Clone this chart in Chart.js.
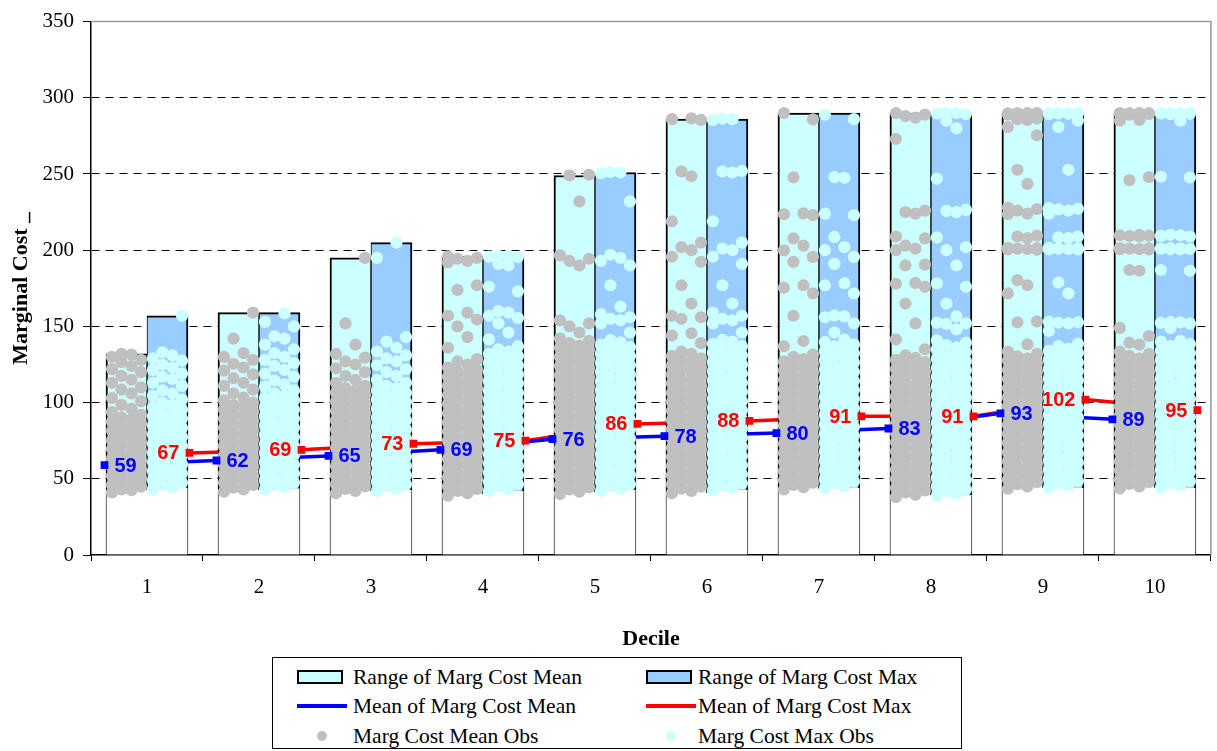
<!DOCTYPE html>
<html>
<head>
<meta charset="utf-8">
<script src="https://cdn.jsdelivr.net/npm/chart.js@4.4.1/dist/chart.umd.min.js"></script>
<style>
  html, body { margin: 0; padding: 0; background: #fff; }
  #wrap { position: relative; width: 1217px; height: 751px; }
  #legend {
    position: absolute; left: 272px; top: 657px; width: 690px; height: 92px;
    box-sizing: border-box; border: 1px solid #000; background: #fff;
    font-family: "Liberation Serif", "Times New Roman", serif; font-size: 21.5px; color: #000;
  }
  .item { position: absolute; height: 26px; line-height: 26px; white-space: nowrap; }
  .item .txt { position: absolute; top: 0; }
  .sw { position: absolute; top: 6px; width: 42px; height: 10px; border: 2px solid #000; }
  .ln { position: absolute; top: 11px; width: 50px; height: 4px; }
  .dot { position: absolute; top: 8px; width: 10px; height: 10px; border-radius: 50%; }
</style>
</head>
<body>
<div id="wrap">
  <canvas id="chart" width="1217" height="751"></canvas>
  <div id="legend">
    <div class="item" style="left:0;top:6px"><span class="sw" style="left:24px;background:#CCFFFF"></span><span class="txt" style="left:80px">Range of Marg Cost Mean</span></div>
    <div class="item" style="left:0;top:35px"><span class="ln" style="left:24px;background:#0000FF"></span><span class="txt" style="left:80px">Mean of Marg Cost Mean</span></div>
    <div class="item" style="left:0;top:65px"><span class="dot" style="left:44px;background:#C0C0C0"></span><span class="txt" style="left:80px">Marg Cost Mean Obs</span></div>
    <div class="item" style="left:0;top:6px"><span class="sw" style="left:373px;background:#99CCFF"></span><span class="txt" style="left:425px">Range of Marg Cost Max</span></div>
    <div class="item" style="left:0;top:35px"><span class="ln" style="left:373px;background:#FF0000"></span><span class="txt" style="left:425px">Mean of Marg Cost Max</span></div>
    <div class="item" style="left:0;top:65px"><span class="dot" style="left:393px;background:#CCFFFF"></span><span class="txt" style="left:425px">Marg Cost Max Obs</span></div>
  </div>
</div>
<script>
// Deciles on the x axis
const deciles = ['1', '2', '3', '4', '5', '6', '7', '8', '9', '10'];

// Range of the per-decile marginal cost (mean and max measures)
const rangeMeanLow  = [42.5, 42.5, 42, 40, 41, 40.5, 43.5, 39, 44, 44];
const rangeMeanHigh = [132, 159, 195, 196, 249, 286, 290, 290, 290, 290];
const rangeMaxLow   = [44, 43.5, 42.5, 42, 42.5, 42.5, 44, 39, 44, 44];
const rangeMaxHigh  = [157, 159, 205, 196, 251, 286, 290, 290, 290, 290];

// Decile averages
const meanOfMean = [59, 62, 65, 69, 76, 78, 80, 83, 93, 89];
const meanOfMax  = [67, 69, 73, 75, 86, 88, 91, 91, 102, 95];

// Individual observations, one list per decile
const meanObs = [
  [41, 42.5, 43, 44.8, 46, 47.5, 49, 50.2, 52, 53.5, 54.6, 56, 57.8, 59, 60.5, 62, 63.4, 65, 66.2, 68, 69.5, 70.8, 72.5, 74, 75.2, 77, 78.5, 79.8, 81.5, 83, 84.2, 86, 87.5, 89, 90.4, 92, 93.8, 96, 98.5, 101, 103, 106, 108.5, 110, 113, 115, 117.5, 120, 122, 124, 126.5, 128, 130, 131.5, 132],
  [41.5, 43, 44.2, 46, 47.4, 49, 50.5, 51.8, 53.5, 55, 56.2, 58, 59.5, 60.8, 62.5, 64, 65.2, 67, 68.6, 70, 71.4, 73, 74.5, 75.8, 77.5, 79, 80.3, 82, 83.5, 85, 86.4, 88, 89.6, 91, 92.3, 94, 95.5, 97, 98.4, 100, 101.5, 103.2, 106, 108.5, 111, 113, 116, 118.5, 121, 123, 125.5, 128, 130, 132.5, 142, 159],
  [40.5, 42, 43.4, 45, 46.5, 47.8, 49.5, 51, 52.3, 54, 55.6, 57, 58.4, 60, 61.5, 63, 64.4, 66, 67.5, 69, 70.3, 72, 73.6, 75, 76.4, 78, 79.5, 81, 82.4, 84, 85.5, 87, 88.3, 90, 91.6, 93, 94.5, 96, 97.4, 99, 100.6, 102, 103.5, 105, 106.6, 108, 109.5, 111, 113, 115, 117.5, 120, 122.5, 125, 127, 129.5, 132, 138, 152, 195],
  [39, 40.5, 42, 43.3, 45, 46.6, 48, 49.4, 51, 52.5, 54, 55.4, 57, 58.6, 60, 61.3, 63, 64.5, 66, 67.4, 69, 70.6, 72, 73.3, 75, 76.5, 78, 79.4, 81, 82.6, 84, 85.3, 87, 88.5, 90, 91.4, 93, 94.6, 96, 97.3, 99, 100.5, 102, 103.4, 105, 106.6, 108, 109.3, 111, 112.5, 114, 115.4, 117, 118.6, 120, 121.5, 123, 125, 127, 128.5, 136, 143, 150, 154.5, 157, 159, 174, 177, 192, 193, 194.5, 195, 196],
  [40, 41.5, 43, 44.4, 46, 47.6, 49, 50.5, 52, 53.4, 55, 56.5, 58, 59.6, 61, 62.4, 64, 65.5, 67, 68.4, 70, 71.6, 73, 74.4, 76, 77.5, 79, 80.6, 82, 83.4, 85, 86.5, 88, 89.6, 91, 92.4, 94, 95.5, 97, 98.6, 100, 101.4, 103, 104.5, 106, 107.6, 109, 110.4, 112, 113.5, 115, 116.6, 118, 119.4, 121, 122.5, 124, 125.6, 127, 128.4, 130, 131.5, 133, 134.6, 136, 137.4, 139, 140.5, 142, 146, 150, 152, 154, 190, 193, 194.4, 196.6, 232, 249, 249.5],
  [40.5, 42, 43.5, 45, 46.4, 48, 49.6, 51, 52.4, 54, 55.5, 57, 58.6, 60, 61.4, 63, 64.5, 66, 67.6, 69, 70.4, 72, 73.5, 75, 76.6, 78, 79.4, 81, 82.5, 84, 85.6, 87, 88.4, 90, 91.5, 93, 94.6, 96, 97.4, 99, 100.5, 102, 103.6, 105, 106.4, 108, 109.5, 111, 112.6, 114, 115.4, 117, 118.5, 120, 121.6, 123, 124.4, 126, 127.5, 129, 130.6, 132, 133.5, 139, 144, 145.5, 155, 156, 157, 165, 177, 192.4, 195.7, 200, 202, 205, 219, 248.5, 251.7, 285.5, 286, 286.5],
  [43, 44.5, 46, 47.4, 49, 50.6, 52, 53.4, 55, 56.5, 58, 59.6, 61, 62.4, 64, 65.5, 67, 68.6, 70, 71.4, 73, 74.5, 76, 77.6, 79, 80.4, 82, 83.5, 85, 86.6, 88, 89.4, 91, 92.5, 94, 95.6, 97, 98.4, 100, 101.5, 103, 104.6, 106, 107.4, 109, 110.5, 112, 113.6, 115, 116.4, 118, 119.5, 121, 122.6, 124, 125.4, 127, 128.5, 130, 131.5, 137, 140.4, 157, 171.7, 175.4, 177, 192.3, 195.6, 199.8, 203, 207.8, 223, 223.6, 224.2, 247.8, 285.8, 290],
  [38, 39.5, 41, 42.4, 44, 45.6, 47, 48.4, 50, 51.5, 53, 54.6, 56, 57.4, 59, 60.5, 62, 63.6, 65, 66.4, 68, 69.5, 71, 72.6, 74, 75.4, 77, 78.5, 80, 81.6, 83, 84.4, 86, 87.5, 89, 90.6, 92, 93.4, 95, 96.5, 98, 99.6, 101, 102.4, 104, 105.5, 107, 108.6, 110, 111.4, 113, 114.5, 116, 117.6, 119, 120.4, 122, 123.5, 125, 126.6, 128, 129.4, 131, 135, 141.5, 152, 165, 176, 178, 178.5, 190, 190.5, 200, 201, 203, 207.8, 209, 224, 225, 226, 273, 287, 288, 289, 290],
  [43.5, 45, 46.5, 48, 49.4, 51, 52.5, 54, 55.6, 57, 58.4, 60, 61.5, 63, 64.6, 66, 67.4, 69, 70.5, 72, 73.6, 75, 76.4, 78, 79.5, 81, 82.6, 84, 85.4, 87, 88.5, 90, 91.6, 93, 94.4, 96, 97.5, 99, 100.6, 102, 103.4, 105, 106.5, 108, 109.6, 111, 112.4, 114, 115.5, 117, 118.6, 120, 121.4, 123, 124.5, 126, 127.6, 129, 130.4, 132, 133.5, 138.2, 152.7, 153.3, 171.7, 177, 180.4, 200.4, 200.5, 200.8, 201, 201.3, 201.6, 208, 209, 209.5, 223.6, 224, 226, 227, 228, 243.5, 252.8, 275.4, 280.8, 285.5, 286, 286.4, 289, 289.3, 289.5, 289.6, 289.8, 290, 290, 290],
  [43.6, 45, 46.6, 48, 49.5, 51, 52.4, 54, 55.5, 57, 58.6, 60, 61.4, 63, 64.5, 66, 67.6, 69, 70.4, 72, 73.5, 75, 76.6, 78, 79.4, 81, 82.5, 84, 85.6, 87, 88.4, 90, 91.5, 93, 94.6, 96, 97.4, 99, 100.5, 102, 103.6, 105, 106.4, 108, 109.5, 111, 112.6, 114, 115.4, 117, 118.5, 120, 121.6, 123, 124.4, 126, 127.5, 129, 130.6, 132, 133.4, 138, 139.3, 143.7, 149, 186.5, 187, 200.5, 200.6, 200.7, 201, 201.2, 201.4, 209, 209.3, 209.5, 209.8, 210, 246, 248, 285, 285.5, 289, 289.4, 289.6, 289.8, 290, 290, 290, 290]
];

const maxObs = [
  [43, 44.5, 46, 47.4, 49, 50.5, 52, 53.6, 55, 56.4, 58, 59.5, 61, 62.6, 64, 65.4, 67, 68.5, 70, 71.6, 73, 74.4, 76, 77.5, 79, 80.6, 82, 83.4, 85, 86.5, 88, 89.6, 91, 92.4, 94, 95.5, 97, 98.6, 100, 102, 104.5, 106, 108, 111, 113, 115.5, 117, 119, 121.5, 123, 125, 127.5, 129, 131, 133, 157],
  [43, 44.6, 46, 47.5, 49, 50.4, 52, 53.5, 55, 56.6, 58, 59.4, 61, 62.5, 64, 65.6, 67, 68.4, 70, 71.5, 73, 74.6, 76, 77.4, 79, 80.5, 82, 83.6, 85, 86.4, 88, 89.5, 91, 92.6, 94, 95.4, 97, 98.5, 100, 101.6, 103, 104.4, 106, 108, 110.5, 112, 114.5, 117, 119, 121.5, 124, 126, 128, 130, 132.5, 135, 138, 142, 143.5, 150, 153, 158.5],
  [42, 43.5, 45, 46.4, 48, 49.6, 51, 52.4, 54, 55.5, 57, 58.6, 60, 61.4, 63, 64.5, 66, 67.6, 69, 70.4, 72, 73.5, 75, 76.6, 78, 79.4, 81, 82.5, 84, 85.6, 87, 88.4, 90, 91.5, 93, 94.6, 96, 97.4, 99, 100.5, 102, 103.6, 105, 106.4, 108, 109.5, 111, 113, 115, 117.5, 120, 122, 124.5, 127, 129, 131, 133.5, 136, 140, 143, 195, 205],
  [42, 43.4, 45, 46.5, 48, 49.6, 51, 52.4, 54, 55.5, 57, 58.6, 60, 61.4, 63, 64.5, 66, 67.6, 69, 70.4, 72, 73.5, 75, 76.6, 78, 79.4, 81, 82.5, 84, 85.6, 87, 88.4, 90, 91.5, 93, 94.6, 96, 97.4, 99, 100.5, 102, 103.6, 105, 106.4, 108, 109.5, 111, 112.6, 114, 115.4, 117, 118.5, 120, 121.6, 123, 124.4, 126, 127.5, 129, 130.6, 132, 133.4, 135, 137, 141.5, 146, 152, 155.5, 157, 159, 160, 173, 176, 190, 191, 195.5, 195.8, 196, 196.3],
  [42, 43.6, 45, 46.4, 48, 49.5, 51, 52.6, 54, 55.4, 57, 58.5, 60, 61.6, 63, 64.4, 66, 67.5, 69, 70.6, 72, 73.4, 75, 76.5, 78, 79.6, 81, 82.4, 84, 85.5, 87, 88.6, 90, 91.4, 93, 94.5, 96, 97.6, 99, 100.4, 102, 103.5, 105, 106.6, 108, 109.4, 111, 112.5, 114, 115.6, 117, 118.4, 120, 121.5, 123, 124.6, 126, 127.4, 129, 130.5, 132, 133.6, 135, 136.4, 138, 139.5, 141, 146, 152, 154, 155, 156, 158, 163, 177, 190, 193, 195, 197, 232, 250.5, 251, 251.3],
  [42.5, 44, 45.4, 47, 48.5, 50, 51.6, 53, 54.4, 56, 57.5, 59, 60.6, 62, 63.4, 65, 66.5, 68, 69.6, 71, 72.4, 74, 75.5, 77, 78.6, 80, 81.4, 83, 84.5, 86, 87.6, 89, 90.4, 92, 93.5, 95, 96.6, 98, 99.4, 101, 102.5, 104, 105.6, 107, 108.4, 110, 111.5, 113, 114.6, 116, 117.4, 119, 120.5, 122, 123.6, 125, 126.4, 128, 129.5, 131, 132.6, 134, 135.4, 137, 138.5, 140, 141.2, 146, 152, 154, 155, 157, 159, 165, 177, 191, 195.7, 200, 201, 205, 219, 251, 251.7, 252, 285.5, 286, 286.3],
  [43.8, 45.2, 46.9, 48.2, 49.7, 51.3, 52.8, 54.1, 55.8, 57.3, 58.7, 60.2, 61.9, 63.2, 64.7, 66.3, 67.8, 69.1, 70.8, 72.3, 73.7, 75.2, 76.9, 78.2, 79.7, 81.3, 82.8, 84.1, 85.8, 87.3, 88.7, 90.2, 91.9, 93.2, 94.7, 96.3, 97.8, 99.1, 100.8, 102.3, 103.7, 105.2, 106.9, 108.2, 109.7, 111.3, 112.8, 114.1, 115.8, 117.3, 118.7, 120.2, 121.9, 123.2, 124.7, 126.3, 127.8, 129.1, 130.8, 132.3, 133.7, 135.2, 136.9, 138.2, 139.7, 141.3, 146, 152, 156, 156.6, 157.2, 171.7, 177, 178.3, 191, 195.6, 200, 202, 208.7, 223, 224, 247.5, 248, 286, 289],
  [38.8, 40.3, 41.7, 43.2, 44.9, 46.2, 47.8, 49.3, 50.7, 52.2, 53.9, 55.2, 56.8, 58.3, 59.7, 61.2, 62.9, 64.2, 65.8, 67.3, 68.7, 70.2, 71.9, 73.2, 74.8, 76.3, 77.7, 79.2, 80.9, 82.2, 83.8, 85.3, 86.7, 88.2, 89.9, 91.2, 92.8, 94.3, 95.7, 97.2, 98.9, 100.2, 101.8, 103.3, 104.7, 106.2, 107.9, 109.2, 110.8, 112.3, 113.7, 115.2, 116.9, 118.2, 119.8, 121.3, 122.7, 124.2, 125.9, 127.2, 128.8, 130.3, 131.7, 133.2, 134.9, 136.2, 137.8, 139.3, 140.8, 148, 151.6, 152, 152.4, 156.6, 165, 176, 178.3, 190, 200, 202, 208.4, 225, 225.8, 226.5, 247, 280, 285, 289.4, 289.7, 290, 290],
  [44, 45.4, 47, 48.5, 50, 51.6, 53, 54.4, 56, 57.5, 59, 60.6, 62, 63.4, 65, 66.5, 68, 69.6, 71, 72.4, 74, 75.5, 77, 78.6, 80, 81.4, 83, 84.5, 86, 87.6, 89, 90.4, 92, 93.5, 95, 96.6, 98, 99.4, 101, 102.5, 104, 105.6, 107, 108.4, 110, 111.5, 113, 114.6, 116, 117.4, 119, 120.5, 122, 123.6, 125, 126.4, 128, 129.5, 131, 132.6, 134, 135.4, 137, 138.6, 147, 152, 152.5, 152.7, 153, 171.7, 178.8, 200.5, 200.6, 200.8, 201, 201.2, 201.5, 208, 208.4, 209, 224, 226, 226.8, 227.2, 227.6, 252.8, 280.8, 285, 289.2, 289.5, 289.7, 289.9, 290, 290, 290],
  [44, 45.5, 47, 48.4, 50, 51.5, 53, 54.6, 56, 57.4, 59, 60.5, 62, 63.6, 65, 66.4, 68, 69.5, 71, 72.6, 74, 75.4, 77, 78.5, 80, 81.6, 83, 84.4, 86, 87.5, 89, 90.6, 92, 93.4, 95, 96.5, 98, 99.6, 101, 102.4, 104, 105.5, 107, 108.6, 110, 111.4, 113, 114.5, 116, 117.6, 119, 120.4, 122, 123.5, 125, 126.6, 128, 129.4, 131, 132.5, 134, 135.6, 137, 138.4, 140, 140.5, 149, 151.8, 152.3, 152.6, 152.9, 186.5, 187, 200.5, 200.6, 200.8, 201, 201.2, 201.4, 209, 209.4, 209.8, 210.1, 247.7, 248.2, 285, 289.3, 289.5, 289.7, 289.9, 290, 290, 290]
];

// Geometry of the paired bars, in category units (one decile = 1)
const CAT_PX = 112;
const BAR_PX = 41;
const BAR_SHIFT = (BAR_PX / 2) / CAT_PX;  // centre of each of the two bars
const LINE_SHIFT = 42.5 / CAT_PX;         // where the average markers sit
const LANES = [-14.5, 5, -5, 14.5].map(p => p / CAT_PX); // horizontal spread of the dots

function obsPoints(lists, shift) {
  const pts = [];
  lists.forEach((vals, i) => {
    vals.forEach((v, k) => pts.push({ x: i + shift + LANES[k % LANES.length], y: v }));
  });
  return pts;
}
const avgPoints = (vals, shift) => vals.map((v, i) => ({ x: i + shift, y: v }));
const spans = (lo, hi, shift) => lo.map((v, i) => ({ x: i + shift, y: [hi ? v : 0, hi ? hi[i] : v] }));

const barCommon = { type: 'bar', xAxisID: 'x2', grouped: false, barThickness: BAR_PX, borderSkipped: false, order: 5 };

const datasets = [
  Object.assign({}, barCommon, {
    label: 'base mean',
    data: spans(rangeMeanLow, null, -BAR_SHIFT),
    backgroundColor: '#FFFFFF', borderColor: '#333333',
    borderWidth: { left: 1, right: 0, top: 0, bottom: 0 }
  }),
  Object.assign({}, barCommon, {
    label: 'Range of Marg Cost Mean',
    data: spans(rangeMeanLow, rangeMeanHigh, -BAR_SHIFT),
    backgroundColor: '#CCFFFF', borderColor: '#000000',
    borderWidth: { left: 2, right: 1, top: 2, bottom: 0 }
  }),
  Object.assign({}, barCommon, {
    label: 'base max',
    data: spans(rangeMaxLow, null, BAR_SHIFT),
    backgroundColor: '#FFFFFF', borderColor: '#333333',
    borderWidth: { left: 0, right: 1, top: 0, bottom: 0 }
  }),
  Object.assign({}, barCommon, {
    label: 'Range of Marg Cost Max',
    data: spans(rangeMaxLow, rangeMaxHigh, BAR_SHIFT),
    backgroundColor: '#99CCFF', borderColor: '#000000',
    borderWidth: { left: 1, right: 2, top: 2, bottom: 0 }
  }),
  {
    type: 'line', label: 'Mean of Marg Cost Mean', xAxisID: 'x2',
    data: avgPoints(meanOfMean, -LINE_SHIFT),
    borderColor: '#0000FF', borderWidth: 3.5, pointRadius: 0, fill: false, order: 10
  },
  {
    type: 'line', label: 'Mean of Marg Cost Max', xAxisID: 'x2',
    data: avgPoints(meanOfMax, LINE_SHIFT),
    borderColor: '#FF0000', borderWidth: 3.5, pointRadius: 0, fill: false, order: 10
  },
  {
    type: 'line', label: 'Marg Cost Mean Obs', xAxisID: 'x2', showLine: false,
    data: obsPoints(meanObs, -BAR_SHIFT),
    pointRadius: 6.1, pointBackgroundColor: '#C0C0C0', pointBorderWidth: 0, order: 2
  },
  {
    type: 'line', label: 'Marg Cost Max Obs', xAxisID: 'x2', showLine: false,
    data: obsPoints(maxObs, BAR_SHIFT),
    pointRadius: 6.1, pointBackgroundColor: '#CCFFFF', pointBorderWidth: 0, order: 2
  },
  {
    type: 'line', label: 'mean markers', xAxisID: 'x2', showLine: false,
    data: avgPoints(meanOfMean, -LINE_SHIFT),
    pointStyle: 'rect', pointRadius: 5.5, pointBackgroundColor: '#0000FF', pointBorderWidth: 0,
    valueLabels: { color: '#0000FF', side: 'right' }, order: 1
  },
  {
    type: 'line', label: 'max markers', xAxisID: 'x2', showLine: false,
    data: avgPoints(meanOfMax, LINE_SHIFT),
    pointStyle: 'rect', pointRadius: 5.5, pointBackgroundColor: '#FF0000', pointBorderWidth: 0,
    valueLabels: { color: '#FF0000', side: 'left' }, order: 1
  }
];

// Grey frame along the top and right of the plot area
const frame = {
  id: 'frame',
  beforeDatasetsDraw(chart) {
    const { ctx, chartArea: a } = chart;
    ctx.save();
    ctx.strokeStyle = '#9a9a9a';
    ctx.lineWidth = 1.5;
    ctx.beginPath();
    ctx.moveTo(a.left, a.top);
    ctx.lineTo(a.right, a.top);
    ctx.lineTo(a.right, a.bottom);
    ctx.stroke();
    ctx.restore();
  }
};

// Numbers written beside the average markers
const valueLabels = {
  id: 'valueLabels',
  afterDatasetsDraw(chart) {
    const ctx = chart.ctx;
    ctx.save();
    ctx.font = 'bold 20px "Liberation Sans", Arial, sans-serif';
    ctx.textBaseline = 'middle';
    chart.data.datasets.forEach((ds, di) => {
      if (!ds.valueLabels) return;
      const meta = chart.getDatasetMeta(di);
      const right = ds.valueLabels.side === 'right';
      ctx.fillStyle = ds.valueLabels.color;
      ctx.textAlign = right ? 'left' : 'right';
      meta.data.forEach((pt, i) => {
        ctx.fillText(String(ds.data[i].y), pt.x + (right ? 10 : -10), pt.y + 1);
      });
    });
    ctx.restore();
  }
};

const serif = '"Liberation Serif", "Times New Roman", serif';

new Chart(document.getElementById('chart'), {
  type: 'bar',
  data: { labels: deciles, datasets },
  options: {
    responsive: false,
    animation: false,
    events: [],
    layout: { padding: { top: 15, right: 6, bottom: 0, left: 0 } },
    plugins: { legend: { display: false }, tooltip: { enabled: false } },
    scales: {
      x: {
        type: 'category',
        offset: true,
        grid: { offset: true, drawOnChartArea: false, drawTicks: true, tickLength: 6, color: '#000', tickColor: '#000' },
        border: { display: true, color: '#000', width: 1.5 },
        ticks: { color: '#000', font: { family: serif, size: 21 }, padding: 14, maxRotation: 0, autoSkip: false },
        title: { display: true, text: 'Decile', color: '#000', font: { family: serif, size: 22, weight: 'bold' }, padding: { top: 4, bottom: 98 } },
        afterFit(scale) { scale.height = 196; }
      },
      x2: { type: 'linear', min: -0.5, max: 9.5, offset: false, display: false },
      y: {
        stacked: false,
        min: 0, max: 350,
        ticks: { stepSize: 50, color: '#000', font: { family: serif, size: 21 }, padding: 9 },
        grid: {
          color: c => (c.tick && (c.tick.value === 0 || c.tick.value === 350)) ? 'rgba(0,0,0,0)' : '#000',
          lineWidth: 1, tickColor: '#000', tickLength: 8, drawTicks: true
        },
        border: { display: true, color: '#000', width: 1.5, dash: [8, 6] },
        title: { display: true, text: 'Marginal Cost _', color: '#000', font: { family: serif, size: 22, weight: 'bold' }, padding: { top: 8, bottom: 0 } },
        afterFit(scale) { scale.width = 91; }
      }
    }
  },
  plugins: [frame, valueLabels]
});
</script>
</body>
</html>
